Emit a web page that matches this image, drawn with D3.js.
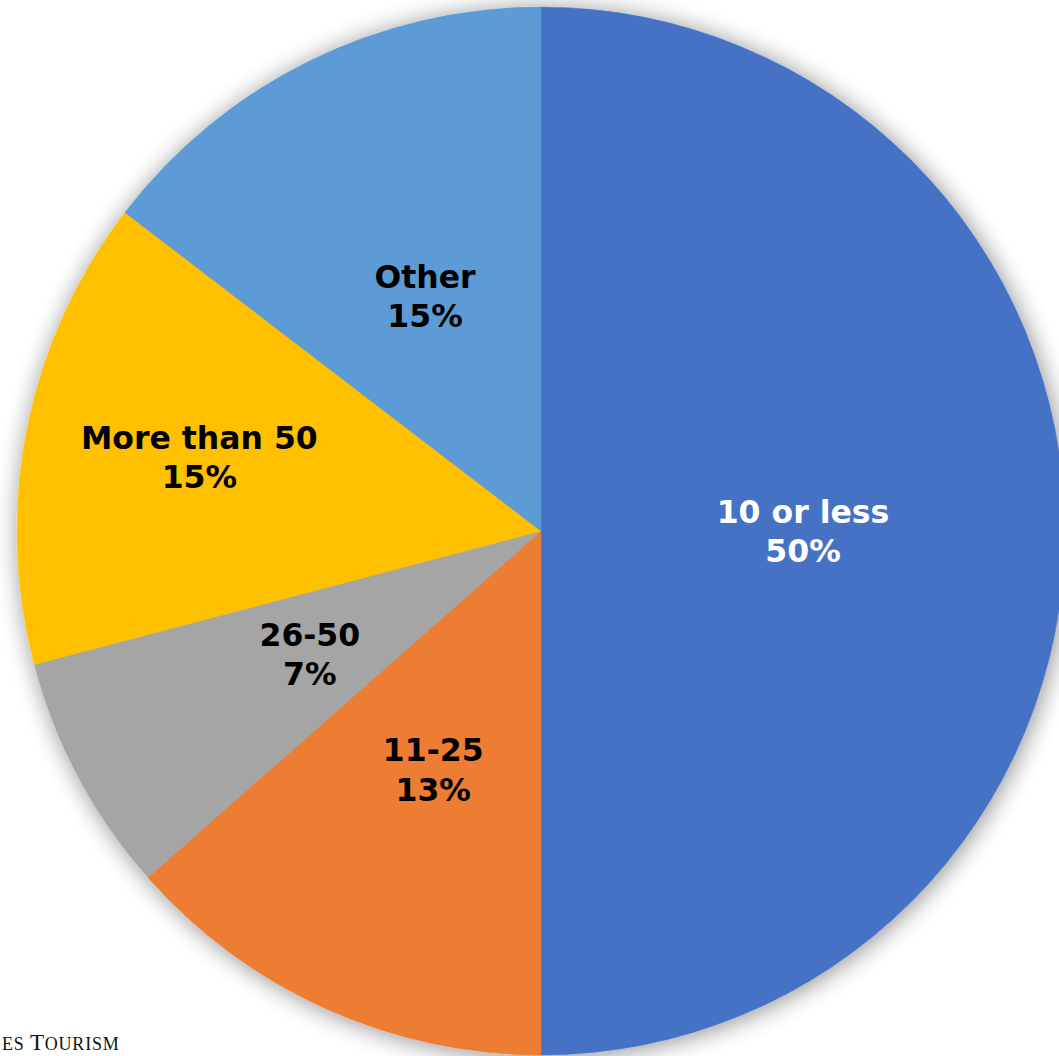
<!DOCTYPE html>
<html><head><meta charset="utf-8">
<script src="https://cdn.jsdelivr.net/npm/d3@7"></script>
<style>html,body{margin:0;padding:0;background:#fff;overflow:hidden}</style>
</head><body>
<svg id="chart" width="1059" height="1056"></svg>
<script>
const categories = ["10 or less", "11-25", "26-50", "More than 50", "Other"];
const values = [50, 13.5, 7.4, 14.5, 14.6];
const pctLabels = ["50%", "13%", "7%", "15%", "15%"];
const colors = ["#4472C4", "#ED7D31", "#A5A5A5", "#FFC000", "#5B9BD5"];
const textColors = ["#ffffff", "#000000", "#000000", "#000000", "#000000"];
const labelRadius = [0.5, 0.5, 0.5, 0.665, 0.5];

const svg = d3.select("#chart");
const cx = 541, cy = 531, R = 524;

const defs = svg.append("defs");
const f = defs.append("filter").attr("id","shadow").attr("x","-20%").attr("y","-20%").attr("width","140%").attr("height","140%");
f.append("feGaussianBlur").attr("in","SourceAlpha").attr("stdDeviation",12).attr("result","b");
f.append("feOffset").attr("in","b").attr("dx",2).attr("dy",2).attr("result","o");
f.append("feComponentTransfer").attr("in","o").attr("result","s")
  .append("feFuncA").attr("type","linear").attr("slope",0.45);
const m = f.append("feMerge");
m.append("feMergeNode").attr("in","s");
m.append("feMergeNode").attr("in","SourceGraphic");

const data = categories.map((c,i)=>({cat:c, value:values[i], pct:pctLabels[i], color:colors[i], tc:textColors[i], lr:labelRadius[i]}));
const pie = d3.pie().value(d=>d.value).sort(null);
const arcs = pie(data);
const arc = d3.arc().innerRadius(0).outerRadius(R);

const g = svg.append("g").attr("transform",`translate(${cx},${cy})`);
const sg = g.append("g").attr("filter","url(#shadow)");
sg.selectAll("path").data(arcs).join("path")
  .attr("d", arc).attr("fill", d=>d.data.color)
  .attr("stroke", d=>d.data.color).attr("stroke-width",0.5);

const lab = g.selectAll("text.lab").data(arcs).join("text")
  .attr("class","lab")
  .attr("transform", d=>{
    const [x,y] = d3.arc().innerRadius(0).outerRadius(R*d.data.lr*2).centroid(d);
    return `translate(${x},${y - (d.data.lr > 0.6 ? 5 : 0)})`;
  })
  .attr("text-anchor","middle")
  .attr("font-family","'DejaVu Sans', Verdana, sans-serif")
  .attr("font-weight","bold")
  .attr("font-size",31.5)
  .attr("fill", d=>d.data.tc);
lab.append("tspan").attr("x",0).attr("dy","-0.27em").text(d=>d.data.cat);
lab.append("tspan").attr("x",0).attr("dy","1.25em").text(d=>d.data.pct);

const foot = svg.append("text").attr("x",2).attr("y",1050)
  .attr("text-anchor","start")
  .attr("font-family","'Liberation Serif', 'DejaVu Serif', serif")
  .attr("fill","#111").attr("letter-spacing",0.8);
foot.append("tspan").attr("font-size",18).text("ES ");
foot.append("tspan").attr("font-size",23).text("T");
foot.append("tspan").attr("font-size",18).text("OURISM");
</script>
</body></html>
